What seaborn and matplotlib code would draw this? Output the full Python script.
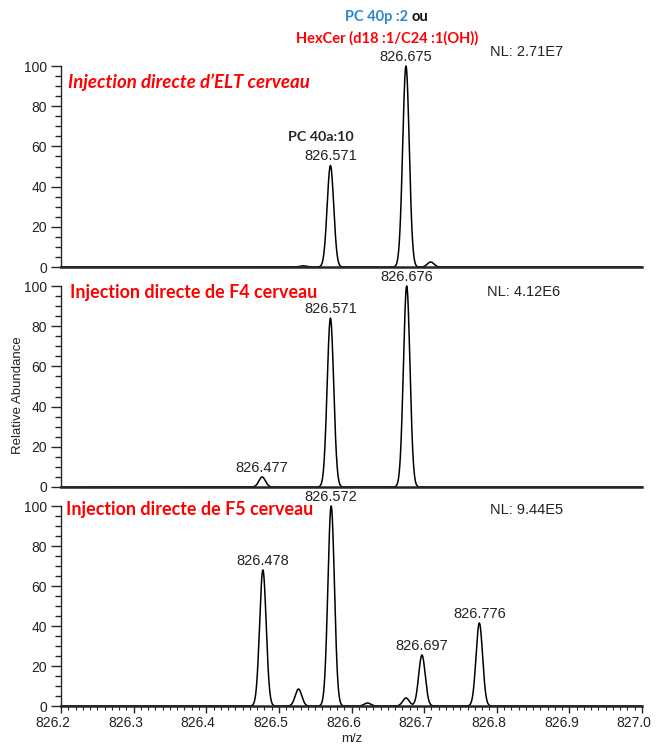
import numpy as np
import pandas as pd
import matplotlib
matplotlib.use("Agg")
import matplotlib.pyplot as plt
from matplotlib.ticker import MultipleLocator
from matplotlib.transforms import ScaledTranslation
import seaborn as sns

# peak lists (m/z centre, relative height)
elt_mz = [826.533, 826.571, 826.675, 826.709]
elt_int = [0.6, 50.5, 100, 2.5]
f4_mz = [826.477, 826.571, 826.676]
f4_int = [5, 84, 100]
f5_mz = [826.478, 826.527, 826.572, 826.622, 826.675, 826.697, 826.776]
f5_int = [68, 8.5, 100, 1.5, 4, 25.5, 41.5]
peak_sigma = 0.0045

titles = ["Injection directe d\u2019ELT cerveau",
          "Injection directe de F4 cerveau",
          "Injection directe de F5 cerveau"]
nl_labels = ["NL: 2.71E7", "NL: 4.12E6", "NL: 9.44E5"]
labelled = [[826.571, 826.675], [826.477, 826.571, 826.676],
            [826.478, 826.572, 826.697, 826.776]]
label_text = [["826.571", "826.675"], ["826.477", "826.571", "826.676"],
              ["826.478", "826.572", "826.697", "826.776"]]

sns.set_style("ticks")
plt.rcParams['font.family'] = ['Liberation Sans', 'DejaVu Sans']

mz = np.linspace(826.2, 827.0, 4001)


def profile(centres, heights):
    y = np.zeros_like(mz)
    for c, h in zip(centres, heights):
        y += h * np.exp(-(mz - c) ** 2 / (2 * peak_sigma ** 2))
    return y


spectra = [profile(elt_mz, elt_int), profile(f4_mz, f4_int), profile(f5_mz, f5_int)]

fig = plt.figure(figsize=(6.58, 7.49), dpi=100)
W, H = 658, 749
left = 61 / W
width = (642 - 61) / W
zero_px = [267, 487, 706]
top_px = [66, 286, 506]

axes = []
for i in range(3):
    b = 1 - zero_px[i] / H
    h = (zero_px[i] - top_px[i]) / H
    ax = fig.add_axes([left, b, width, h])
    df = pd.DataFrame({"mz": mz, "ab": spectra[i]})
    sns.lineplot(data=df, x="mz", y="ab", ax=ax, color="black", lw=1.1)
    ax.set_xlim(826.2, 827.0)
    ax.set_ylim(0, 100)
    for s in ["top", "right"]:
        ax.spines[s].set_visible(False)
    ax.spines["left"].set_linewidth(1.0)
    ax.spines["bottom"].set_linewidth(1.8)
    ax.yaxis.set_major_locator(MultipleLocator(20))
    ax.yaxis.set_minor_locator(MultipleLocator(5))
    ax.tick_params(axis="y", which="major", length=7, width=1, labelsize=10,
                   direction="out", pad=3, labelcolor="#222222")
    ax.tick_params(axis="y", which="minor", length=4, width=1, direction="out")
    ax.set_xlabel("")
    ax.set_ylabel("")
    for line in ax.lines:
        line.set_clip_on(False)
    if i < 2:
        ax.tick_params(axis="x", which="both", bottom=False, labelbottom=False)
    else:
        ax.xaxis.set_major_locator(MultipleLocator(0.1))
        ax.xaxis.set_minor_locator(MultipleLocator(0.01))
        ax.tick_params(axis="x", which="major", length=5, width=1, labelsize=10,
                       direction="out", pad=2, labelcolor="#222222")
        ax.tick_params(axis="x", which="minor", length=3, width=0.8, direction="out")
        ax.set_xticks(np.arange(826.2, 827.05, 0.1))
        ax.set_xticklabels([f"{v:.1f}" for v in np.arange(826.2, 827.05, 0.1)])
        shift = ScaledTranslation(-8 / 100, 0, fig.dpi_scale_trans)
        for lab in ax.get_xticklabels():
            lab.set_transform(lab.get_transform() + shift)
        ax.set_xlabel("m/z", fontsize=9.5, labelpad=2, color="#222222")
    # peak labels
    for x0, txt in zip(labelled[i], label_text[i]):
        yk = np.interp(x0, mz, spectra[i])
        ax.annotate(txt, (x0, yk), xytext=(0, 6.5), textcoords="offset points",
                    ha="center", va="center", fontsize=10.5, color="#222222",
                    annotation_clip=False)
    axes.append(ax)

# panel titles
axes[0].text(826.2096, 92, titles[0], color="red", fontsize=13.4, fontweight="bold",
             fontstyle="italic", family="Lato", va="center", ha="left")
axes[1].text(826.2124, 97, titles[1], color="red", fontsize=12.9, fontweight="bold",
             family="Lato", va="center", ha="left")
axes[2].text(826.207, 98, titles[2], color="red", fontsize=12.9, fontweight="bold",
             family="Lato", va="center", ha="left")

# NL labels
nl_y = [107, 97, 98]
nl_x = [826.791, 826.787, 826.791]
for ax, t, xx, yy in zip(axes, nl_labels, nl_x, nl_y):
    ax.text(xx, yy, t, fontsize=10.5, color="#222222", va="center", ha="left",
            clip_on=False)

# compound annotations
axes[0].annotate("PC 40a:10", (826.571, 50.5), xytext=(-7, 20.5), textcoords="offset points",
                 ha="center", va="center", fontsize=10.3, fontweight="bold", family="Lato")
fig.text(0.620, 1 - 17 / H, "PC 40p :2", color="#2e86d0", fontsize=10.5,
         fontweight="bold", family="Lato", ha="right", va="center")
fig.text(0.626, 1 - 17 / H, "ou", color="#111111", fontsize=10.5,
         fontweight="bold", family="Lato", ha="left", va="center")
fig.text(387 / W, 1 - 38 / H, "HexCer (d18 :1/C24 :1(OH))", color="red", fontsize=10.5,
         fontweight="bold", family="Lato", ha="center", va="center")

fig.text(18 / W, 1 - 395 / H, "Relative Abundance", rotation=90, fontsize=9.5,
         ha="center", va="center", color="#222222")

fig.savefig("out.png", dpi=100)
